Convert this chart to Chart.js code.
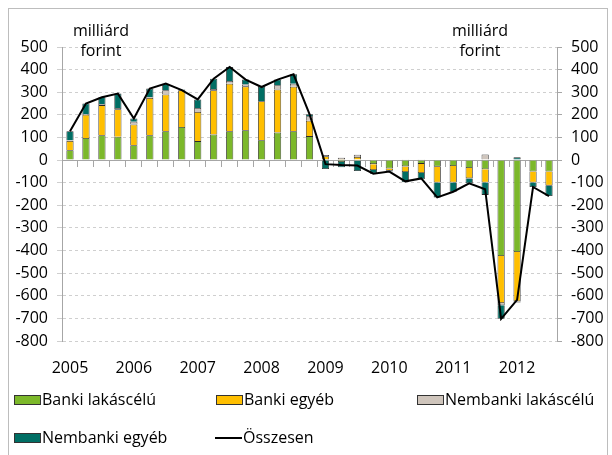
<!DOCTYPE html>
<html>
<head>
<meta charset="utf-8">
<script src="https://cdn.jsdelivr.net/npm/chart.js@4"></script>
<style>
    body { margin: 0; background: #fff; font-family: 'Open Sans', sans-serif; }
    #wrap { position: relative; width: 612px; height: 455px; overflow: hidden; }
    #frame { position: absolute; left: 8px; top: 8px; width: 598px; height: 470px; border: 1px solid #bdbdbd; }
    canvas { position: absolute; left: 0; top: 0; }
    .unit { position: absolute; font-size: 16px; line-height: 20px; text-align: center; color: #000; width: 80px; }
    .leg { position: absolute; font-size: 16px; line-height: 20px; color: #000; white-space: nowrap; }
    .box { position: absolute; width: 25px; height: 8px; border: 1px solid #333; }
    .ln { position: absolute; width: 27px; height: 2px; background: #000; }
</style>
</head>
<body>
<div id="wrap">
    <div id="frame"></div>
    <canvas id="chart" width="612" height="455"></canvas>
    <div class="unit" style="left:61px; top:20px;">milliárd<br>forint</div>
    <div class="unit" style="left:440px; top:20px;">milliárd<br>forint</div>

    <div class="box" style="left:14px; top:395px; background:#7cb82a;"></div>
    <div class="leg" style="left:42px; top:389px;">Banki lakáscélú</div>
    <div class="box" style="left:216px; top:395px; background:#ffbf00;"></div>
    <div class="leg" style="left:244px; top:389px;">Banki egyéb</div>
    <div class="box" style="left:417px; top:395px; background:#cfc5bc;"></div>
    <div class="leg" style="left:445px; top:389px;">Nembanki lakáscélú</div>

    <div class="box" style="left:14px; top:433px; background:#006e64;"></div>
    <div class="leg" style="left:42px; top:427px;">Nembanki egyéb</div>
    <div class="ln" style="left:215px; top:437px;"></div>
    <div class="leg" style="left:243px; top:427px;">Összesen</div>
</div>
<script>
// Negyedéves adatok, 2005 Q1 - 2012 Q3 (milliárd forint)
const years = ['2005', '2006', '2007', '2008', '2009', '2010', '2011', '2012'];
const quarters = 31;

const bankiLakas = [44, 98, 110, 103, 66, 110, 128, 146, 84, 113, 128, 132, 88, 122, 128, 106,
    5, -8, -3, -18, -37, -28, -17, -29, -26, -35, -41, -424, -407, -51, -51];
const bankiEgyeb = [41, 103, 133, 122, 91, 165, 162, 163, 129, 196, 210, 194, 172, 190, 196, 68,
    12, 5, 14, -26, -10, -25, -40, -70, -73, -46, -58, -208, -218, -48, -62];
const nembankiLakas = [3, 3, 5, 5, 13, 3, 19, -3, 17, 5, 12, 8, -3, 19, 14, 20,
    5, 5, 10, 0, 0, 4, 4, 0, 0, 0, 25, -10, -5, 0, 0];
const nembankiEgyeb = [40, 46, 30, 64, 14, 38, 29, 3, 38, 46, 62, 22, 66, 25, 41, 9,
    -40, -24, -45, -16, -4, -45, -28, -66, -41, -22, -55, -60, 12, -20, -46];
const osszesen = [128, 250, 278, 294, 184, 316, 338, 309, 268, 360, 412, 356, 323, 356, 379, 203,
    -18, -22, -24, -60, -51, -94, -81, -165, -140, -103, -129, -702, -618, -119, -159];

// cimkek: csak minden ev elso negyedevenel
const labels = [];
for (let i = 0; i < quarters; i++) {
    labels.push(i % 4 === 0 ? years[i / 4] : '');
}

const font = { family: 'Open Sans', size: 16 };
const edge = '#2a2a2a';

function barSet(label, data, color) {
    return {
        type: 'bar',
        label: label,
        data: data,
        backgroundColor: color,
        borderColor: edge,
        borderWidth: 0.8,
        stack: 'flows',
        order: 1,
        barPercentage: 0.45,
        categoryPercentage: 1
    };
}

new Chart(document.getElementById('chart'), {
    data: {
        labels: labels,
        datasets: [
            barSet('Banki lakáscélú', bankiLakas, '#7cb82a'),
            barSet('Banki egyéb', bankiEgyeb, '#ffbf00'),
            barSet('Nembanki lakáscélú', nembankiLakas, '#cfc5bc'),
            barSet('Nembanki egyéb', nembankiEgyeb, '#006e64'),
            {
                type: 'line',
                label: 'Összesen',
                data: osszesen,
                borderColor: '#000',
                borderWidth: 2,
                pointRadius: 0,
                tension: 0,
                stack: 'total',
                order: 0
            }
        ]
    },
    options: {
        responsive: false,
        animation: false,
        layout: { padding: { top: 47, bottom: 74, left: 0, right: 0 } },
        plugins: { legend: { display: false }, tooltip: { enabled: false } },
        scales: {
            x: {
                stacked: true,
                offset: true,
                grid: { display: false },
                border: { display: false },
                ticks: { font: font, color: '#000', autoSkip: false, maxRotation: 0, padding: 10 },
                afterFit: function(scale) { scale.height = 40; }
            },
            x2: {
                type: 'category',
                labels: labels,
                position: { y: 0 },
                offset: true,
                grid: { drawOnChartArea: false, offset: true, tickLength: 6, color: '#a6a6a6' },
                border: { color: '#a6a6a6' },
                ticks: { display: false }
            },
            y: {
                stacked: true,
                position: 'left',
                min: -800,
                max: 500,
                ticks: { stepSize: 100, font: font, color: '#000', padding: 9 },
                grid: { color: '#cfcfcf', tickLength: 5 },
                border: { color: '#a6a6a6', dash: [3, 3] },
                afterFit: function(scale) { scale.width = 62; }
            },
            y2: {
                position: 'right',
                min: -800,
                max: 500,
                ticks: { stepSize: 100, font: font, color: '#000', padding: 9 },
                grid: { drawOnChartArea: false, tickLength: 5, color: '#a6a6a6' },
                border: { color: '#a6a6a6' },
                afterFit: function(scale) { scale.width = 55; }
            }
        }
    }
});
</script>
</body>
</html>
